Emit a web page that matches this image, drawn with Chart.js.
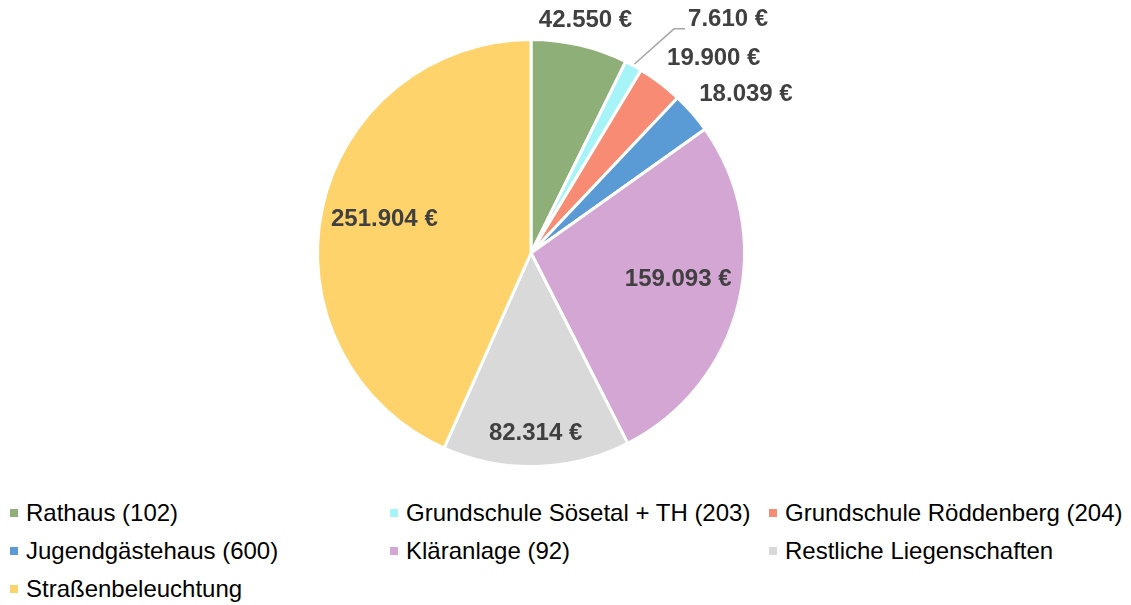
<!DOCTYPE html>
<html>
<head>
<meta charset="utf-8">
<script src="https://cdn.jsdelivr.net/npm/chart.js@4.4.1/dist/chart.umd.min.js"></script>
<style>
  body { margin: 0; background: #fff; width: 1131px; height: 605px; overflow: hidden; position: relative; font-family: "Liberation Sans", Arial, sans-serif; }
  #pie { position: absolute; left: 0; top: 0; }
  .leg { position: absolute; font-size: 24px; color: #000; white-space: nowrap; line-height: 26px; }
  .leg i { display: inline-block; width: 8px; height: 8px; margin-right: 8px; vertical-align: 4px; }
</style>
</head>
<body>
<canvas id="pie" width="1131" height="495"></canvas>
<div id="legend"></div>
<script>
const categories = [
    "Rathaus (102)",
    "Grundschule Sösetal + TH (203)",
    "Grundschule Röddenberg (204)",
    "Jugendgästehaus (600)",
    "Kläranlage (92)",
    "Restliche Liegenschaften",
    "Straßenbeleuchtung"
];
const values = [42550, 7610, 19900, 18039, 159093, 82314, 251904];
const valueLabels = ["42.550 €", "7.610 €", "19.900 €", "18.039 €", "159.093 €", "82.314 €", "251.904 €"];
const colors = ["#8FAF79", "#A6F3F8", "#F78B73", "#5B9BD5", "#D3A6D3", "#D9D9D9", "#FFD36B"];

// label placement: radius factor and angle shift (deg) per slice
const labelLayout = [
    { f: 1.12, da: 0 },
    { f: 1.43, da: 11.5, leader: true },
    { f: 1.25, da: 6 },
    { f: 1.25, da: 4.7 },
    { f: 0.70, da: -3.8 },
    { f: 0.845, da: 0 },
    { f: 0.705, da: 1 }
];

const labelPlugin = {
    id: "sliceLabels",
    afterDatasetsDraw(chart) {
        const ctx = chart.ctx;
        const arcs = chart.getDatasetMeta(0).data;
        ctx.save();
        ctx.font = "bold 24px 'Liberation Sans', Arial, sans-serif";
        ctx.fillStyle = "#404040";
        ctx.textAlign = "center";
        ctx.textBaseline = "middle";
        arcs.forEach((arc, i) => {
            const lay = labelLayout[i];
            const mid = (arc.startAngle + arc.endAngle) / 2;
            const a = mid + lay.da * Math.PI / 180;
            const R = arc.outerRadius;
            const x = arc.x + Math.cos(a) * R * lay.f;
            const y = arc.y + Math.sin(a) * R * lay.f;
            if (lay.leader) {
                const w = ctx.measureText(valueLabels[i]).width;
                const left = x - w / 2;
                ctx.strokeStyle = "#A6A6A6";
                ctx.lineWidth = 1.5;
                ctx.beginPath();
                ctx.moveTo(arc.x + Math.cos(mid) * (R + 2), arc.y + Math.sin(mid) * (R + 2));
                ctx.lineTo(left - 14, y + 9);
                ctx.lineTo(left - 3, y + 9);
                ctx.stroke();
            }
            ctx.fillText(valueLabels[i], x, y);
        });
        ctx.restore();
    }
};

new Chart(document.getElementById("pie"), {
    type: "pie",
    data: {
        labels: categories,
        datasets: [{ data: values, backgroundColor: colors, borderColor: "#fff", borderWidth: 3 }]
    },
    options: {
        responsive: false,
        animation: false,
        devicePixelRatio: 1,
        layout: { padding: { left: 316, right: 385, top: 38, bottom: 27 } },
        plugins: { legend: { display: false }, tooltip: { enabled: false } }
    },
    plugins: [labelPlugin]
});

// html legend, 3 columns
const colX = [10, 390, 769];
const rowY = [500, 538, 576];
const legend = document.getElementById("legend");
categories.forEach((name, i) => {
    const d = document.createElement("div");
    d.className = "leg";
    d.style.left = colX[i % 3] + "px";
    d.style.top = rowY[Math.floor(i / 3)] + "px";
    d.innerHTML = `<i style="background:${colors[i]}"></i>${name}`;
    legend.appendChild(d);
});
</script>
</body>
</html>
